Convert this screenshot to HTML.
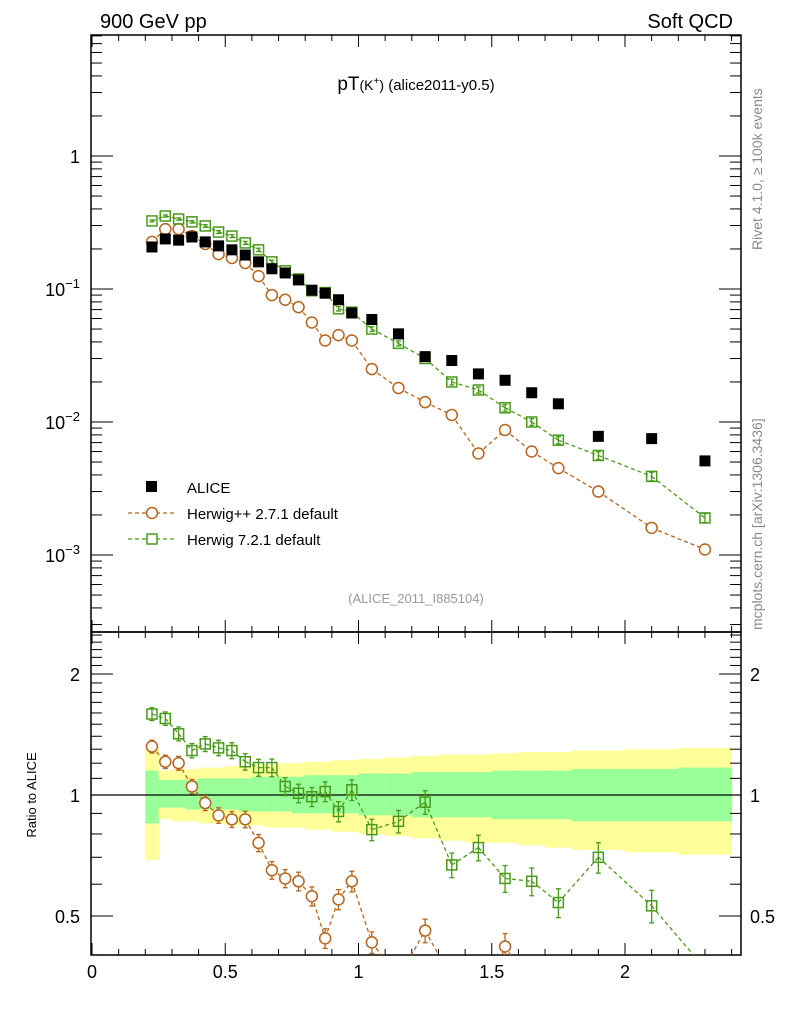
<!DOCTYPE html>
<html><head><meta charset="utf-8"><style>
html,body{margin:0;padding:0;background:#fff;width:786px;height:1024px;overflow:hidden;}
svg{display:block;font-family:"Liberation Sans",sans-serif;}
</style></head><body>
<svg id="chart" width="786" height="1024" viewBox="0 0 786 1024" xmlns="http://www.w3.org/2000/svg">
<defs>
<clipPath id="clipMain"><rect x="91" y="35" width="650" height="597"/></clipPath>
<clipPath id="clipRatio"><rect x="91" y="632" width="650" height="323"/></clipPath>
</defs>
<text x="100" y="28" font-size="20">900 GeV pp</text>
<text x="733" y="28" font-size="20" text-anchor="end">Soft QCD</text>
<text x="416" y="90" font-size="19" text-anchor="middle">pT<tspan font-size="14">(K</tspan><tspan font-size="10" dy="-6">+</tspan><tspan font-size="14" dy="6">)</tspan><tspan font-size="15"> (alice2011-y0.5)</tspan></text>
<text x="416" y="603" font-size="13" fill="#999" text-anchor="middle">(ALICE_2011_I885104)</text>
<text transform="translate(762,250) rotate(-90)" font-size="14" fill="#888">Rivet 4.1.0, ≥ 100k events</text>
<text transform="translate(762,630) rotate(-90)" font-size="14" fill="#888">mcplots.cern.ch [arXiv:1306.3436]</text>
<text transform="translate(36,795) rotate(-90)" font-size="13" text-anchor="middle">Ratio to ALICE</text>
<g id="bands" clip-path="url(#clipRatio)"></g>
<g id="axes"></g>
<g id="mainMarks" clip-path="url(#clipMain)"></g>
<g id="ratioMarks" clip-path="url(#clipRatio)"></g>
<g>
<rect x="146" y="481" width="11" height="11" fill="#000"/>
<text x="187" y="493" font-size="15">ALICE</text>
<line x1="128" y1="513" x2="176" y2="513" stroke="#b5651d" stroke-dasharray="4,3" stroke-width="1.3"/>
<circle cx="152" cy="513" r="5.5" fill="#fff" stroke="#b5651d" stroke-width="1.5"/>
<text x="187" y="519" font-size="15">Herwig++ 2.7.1 default</text>
<line x1="128" y1="539" x2="176" y2="539" stroke="#4a9a1a" stroke-dasharray="4,3" stroke-width="1.3"/>
<rect x="147" y="534" width="10" height="10" fill="#fff" stroke="#4a9a1a" stroke-width="1.5"/>
<text x="187" y="545" font-size="15">Herwig 7.2.1 default</text>
</g>
</svg>
<script>
const xs = [0.225,0.275,0.325,0.375,0.425,0.475,0.525,0.575,0.625,0.675,0.725,0.775,0.825,0.875,0.925,0.975,1.05,1.15,1.25,1.35,1.45,1.55,1.65,1.75,1.9,2.1,2.3];
const binLo = [0.2,0.25,0.3,0.35,0.4,0.45,0.5,0.55,0.6,0.65,0.7,0.75,0.8,0.85,0.9,0.95,1.0,1.1,1.2,1.3,1.4,1.5,1.6,1.7,1.8,2.0,2.2];
const binHi = [0.25,0.3,0.35,0.4,0.45,0.5,0.55,0.6,0.65,0.7,0.75,0.8,0.85,0.9,0.95,1.0,1.1,1.2,1.3,1.4,1.5,1.6,1.7,1.8,2.0,2.2,2.4];
const alice = [0.207,0.238,0.233,0.246,0.226,0.211,0.197,0.18,0.16,0.142,0.132,0.117,0.098,0.093,0.083,0.066,0.059,0.046,0.031,0.029,0.023,0.0206,0.0166,0.0137,0.0078,0.0075,0.0051];
const herwigpp = [0.226,0.282,0.282,0.25,0.218,0.183,0.171,0.157,0.125,0.090,0.083,0.073,0.056,0.041,0.045,0.041,0.025,0.018,0.0141,0.0113,0.0058,0.0087,0.006,0.0045,0.003,0.0016,0.0011];
const herwig7 = [0.325,0.354,0.336,0.32,0.298,0.268,0.25,0.222,0.197,0.16,0.137,0.119,0.097,0.094,0.071,0.067,0.05,0.039,0.030,0.020,0.0174,0.0128,0.010,0.0073,0.0056,0.0039,0.0019];
const ratioHpp = [1.32,1.21,1.2,1.05,0.955,0.89,0.87,0.87,0.76,0.65,0.62,0.61,0.56,0.44,0.55,0.61,0.43,0.35,0.46,0.35,0.28,0.42,0.33,0.30,0.32,0.25,0.2];
const ratioH7 = [1.59,1.55,1.42,1.29,1.34,1.31,1.29,1.21,1.17,1.17,1.05,1.01,0.99,1.02,0.91,1.03,0.82,0.86,0.96,0.67,0.74,0.62,0.61,0.54,0.70,0.53,0.37];
const yellowUp = [1.32,1.15,1.16,1.16,1.17,1.17,1.18,1.18,1.19,1.19,1.20,1.20,1.21,1.21,1.22,1.22,1.23,1.24,1.25,1.26,1.26,1.27,1.28,1.28,1.29,1.30,1.31];
const yellowDn = [0.69,0.87,0.86,0.86,0.85,0.85,0.84,0.84,0.84,0.83,0.83,0.83,0.82,0.82,0.81,0.81,0.80,0.79,0.78,0.77,0.76,0.76,0.75,0.74,0.73,0.72,0.71];
const greenUp = [1.15,1.09,1.09,1.09,1.10,1.10,1.10,1.10,1.11,1.11,1.11,1.11,1.12,1.12,1.12,1.12,1.13,1.13,1.14,1.14,1.14,1.15,1.15,1.15,1.16,1.16,1.17];
const greenDn = [0.85,0.93,0.93,0.92,0.92,0.92,0.92,0.91,0.91,0.91,0.91,0.90,0.90,0.90,0.90,0.90,0.89,0.89,0.88,0.88,0.88,0.87,0.87,0.87,0.86,0.86,0.86];
const xTickLabels = ["0","0.5","1","1.5","2"];
const xTickVals = [0,0.5,1,1.5,2];
const yMainExps = [0,-1,-2,-3];
const ratioTickVals = [2,1,0.5];
const ratioTickLabels = ["2","1","0.5"];

const NS="http://www.w3.org/2000/svg";
const L=91,R=741,MT=35,MB=632,RT=632,RB=955;
const X=v=>92+v*266.5;
const Y=v=>156-Math.log10(v)*133;
const YR=v=>795-Math.log10(v)*402;
const ORANGE="#b5651d",GREEN="#4a9a1a";
function mk(tag,attrs,parent){const e=document.createElementNS(NS,tag);for(const k in attrs)e.setAttribute(k,attrs[k]);parent.appendChild(e);return e;}
const axes=document.getElementById('axes'),bands=document.getElementById('bands'),mm=document.getElementById('mainMarks'),rm=document.getElementById('ratioMarks');

for(let i=0;i<xs.length;i++){
  const x0=X(binLo[i]),x1=Math.min(X(binHi[i]),R);
  let r=mk('rect',{x:x0,y:YR(yellowUp[i]),width:x1-x0+0.5,height:YR(yellowDn[i])-YR(yellowUp[i]),fill:"#ffff99"},bands);
  
  
  let g=mk('rect',{x:x0,y:YR(greenUp[i]),width:x1-x0+0.5,height:YR(greenDn[i])-YR(greenUp[i]),fill:"#99ff99"},bands);
  
  
}
mk('rect',{x:L,y:MT,width:R-L,height:MB-MT,fill:"none",stroke:"#000","stroke-width":1.5},axes);
mk('rect',{x:L,y:RT,width:R-L,height:RB-RT,fill:"none",stroke:"#000","stroke-width":1.5},axes);
mk('line',{x1:L,y1:YR(1),x2:R,y2:YR(1),stroke:"#000","stroke-width":1.2},axes);
for(let t=0;t<=24;t++){
  const v=t*0.1,x=X(v);if(x>R)break;
  const major=t%5===0,len=major?12:6;
  [[MB,-1],[MT,1],[RB,-1],[RT,1]].forEach(([y,d])=>mk('line',{x1:x,y1:y,x2:x,y2:y+d*len,stroke:"#000","stroke-width":1},axes));
}
xTickVals.forEach((v,i)=>{const t=mk('text',{x:X(v),y:978,"font-size":18,"text-anchor":"middle"},axes);t.textContent=xTickLabels[i];});
for(let e=-4;e<=1;e++){
  for(let m=1;m<=9;m++){
    const v=m*Math.pow(10,e),y=Y(v);if(y<MT||y>MB)continue;
    const len=m===1?22:11;
    mk('line',{x1:L,y1:y,x2:L+len,y2:y,stroke:"#000"},axes);
    mk('line',{x1:R,y1:y,x2:R-len,y2:y,stroke:"#000"},axes);
  }
}
yMainExps.forEach(e=>{
  const y=Y(Math.pow(10,e));
  const t=mk('text',{x:80,y:y+7,"font-size":18,"text-anchor":"end"},axes);
  
  
  if(e===0)t.textContent="1";else{t.textContent="10";const s=mk('tspan',{dy:-8,"font-size":13},t);s.textContent="−"+(-e);}
});
for(let v=0.4;v<=2.55;v+=0.1){
  const y=YR(v);if(y<RT||y>RB)continue;
  const r=Math.round(v*10);const major=(r===5||r===10||r===20);const len=major?22:11;
  mk('line',{x1:L,y1:y,x2:L+len,y2:y,stroke:"#000"},axes);
  mk('line',{x1:R,y1:y,x2:R-len,y2:y,stroke:"#000"},axes);
}
ratioTickVals.forEach((v,i)=>{
  [[80,"end"],[750,"start"]].forEach(([x,a])=>{const t=mk('text',{x:x,y:YR(v)+7,"font-size":18,"text-anchor":a},axes);t.textContent=ratioTickLabels[i];});
});
function series(parent,vals,yf,color,shape,name,e0,e1,yMax){
  const P=xs.map((x,i)=>[X(x),yf(vals[i])]);
  for(let i=0;i<P.length-1;i++){
    let [x1,y1]=P[i],[x2,y2]=P[i+1];
    if(y1>yMax&&y2>yMax)continue;
    if(y1>yMax){x1=x1+(x2-x1)*(yMax-y1)/(y2-y1);y1=yMax;}
    if(y2>yMax){x2=x1+(x2-x1)*(yMax-y1)/(y2-y1);y2=yMax;}
    const seg=mk('line',{x1:x1,y1:y1,x2:x2,y2:y2,stroke:color,"stroke-width":1.3,"stroke-dasharray":"4,3"},parent);
    
    
  }
  xs.forEach((x,i)=>{
    const cx=X(x),cy=yf(vals[i]);
    if(cy>yMax)return;
    const err=(e0+e1*x);
    const yu=yf(vals[i]*(1+err)),yd=Math.min(yf(vals[i]*(1-err)),yMax);
    mk('line',{x1:cx,y1:yu,x2:cx,y2:yd,stroke:color,"stroke-width":1.3},parent);
    mk('line',{x1:cx-2.5,y1:yu,x2:cx+2.5,y2:yu,stroke:color,"stroke-width":1.3},parent);
    mk('line',{x1:cx-2.5,y1:yd,x2:cx+2.5,y2:yd,stroke:color,"stroke-width":1.3},parent);
    let m;
    if(shape==='c')m=mk('circle',{cx:cx,cy:cy,r:5.5,fill:"#fff",stroke:color,"stroke-width":1.5},parent);
    else m=mk('rect',{x:cx-5,y:cy-5,width:10,height:10,fill:"none",stroke:color,"stroke-width":1.5},parent);
    
    
  });
}
series(mm,herwigpp,Y,ORANGE,'c','herwigpp',0.01,0.03,640);
series(mm,herwig7,Y,GREEN,'s','herwig7',0.01,0.03,640);
alice.forEach((v,i)=>{
  const r=mk('rect',{x:X(xs[i])-5.5,y:Y(v)-5.5,width:11,height:11,fill:"#000"},mm);
  
  
});
series(rm,ratioHpp,YR,ORANGE,'c','ratio-herwigpp',0.03,0.03,962);
series(rm,ratioH7,YR,GREEN,'s','ratio-herwig7',0.03,0.03,962);
</script>
</body></html>
